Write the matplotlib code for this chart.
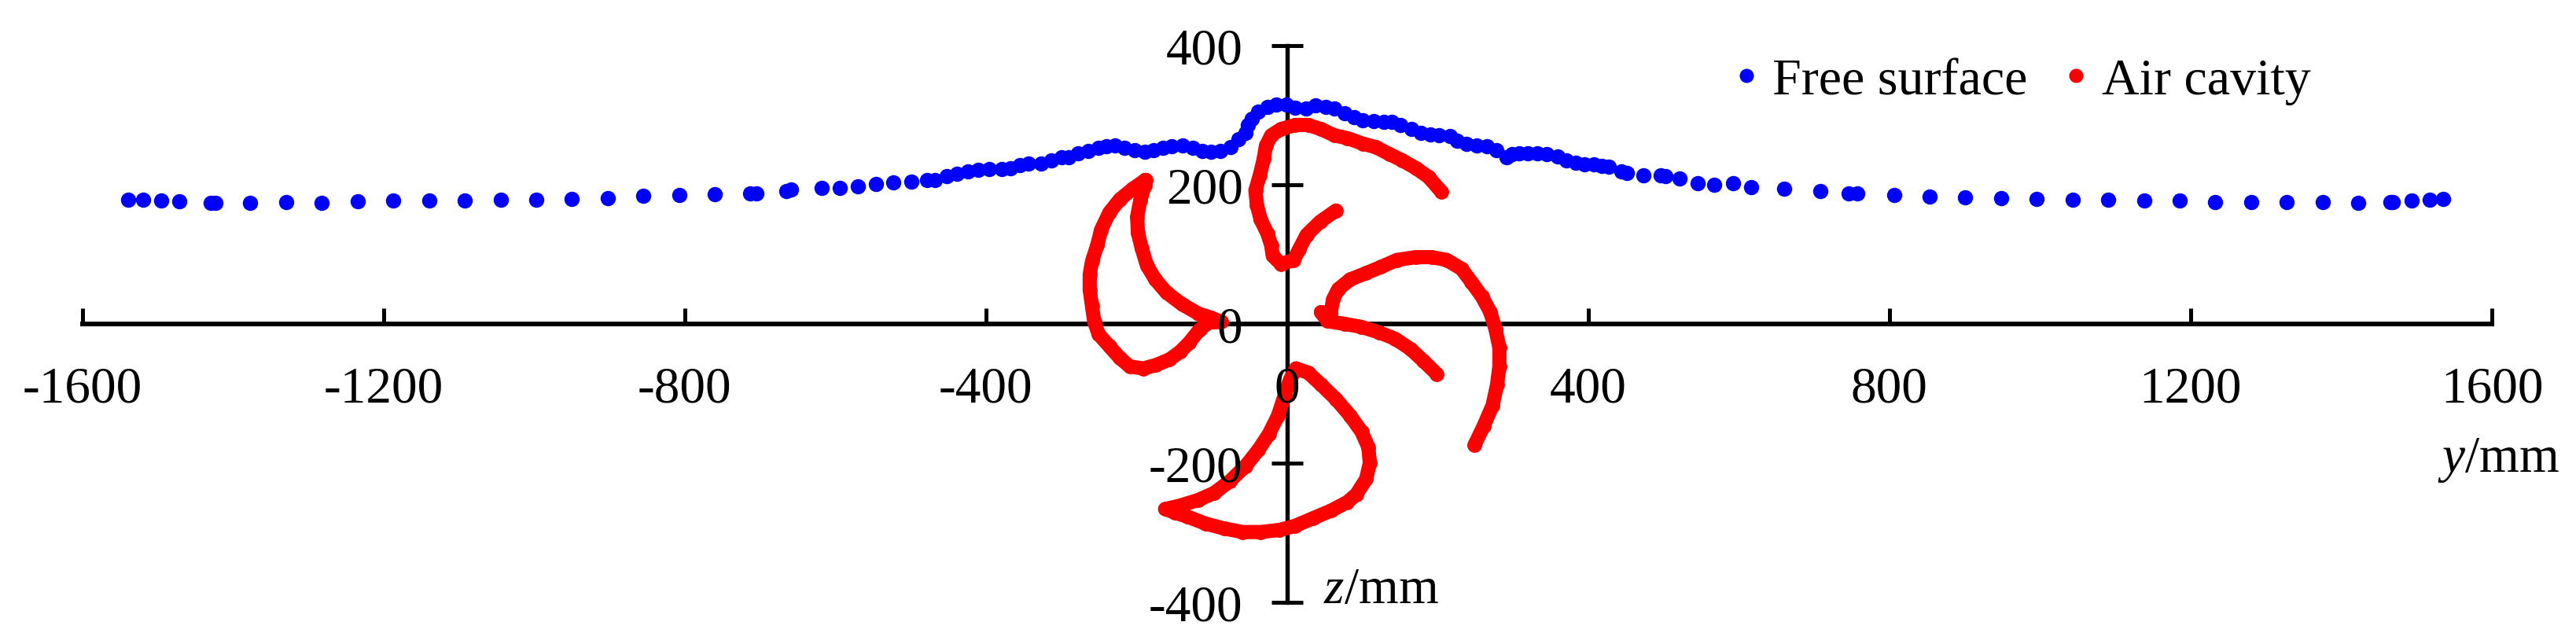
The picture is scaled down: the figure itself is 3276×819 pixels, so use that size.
import matplotlib
matplotlib.use('Agg')
import matplotlib.pyplot as plt
from matplotlib.lines import Line2D

plt.rcParams['font.family'] = ['Liberation Serif', 'DejaVu Sans']
plt.rcParams['mathtext.fontset'] = 'custom'
plt.rcParams['mathtext.it'] = 'Liberation Serif:italic'
plt.rcParams['mathtext.rm'] = 'Liberation Serif'

# free surface
surface_y = [-1539, -1519, -1495, -1471, -1429, -1423, -1377, -1329, -1282, -1234, -1187, -1139, -1092, -1044,
             -997, -950, -902, -855, -807, -760, -713, -705, -665, -659, -618, -594, -570, -546, -523, -499,
             -478, -468, -452, -438, -424, -410, -395, -379, -367, -355, -343, -327, -313, -299, -290, -278,
             -264, -250, -240, -228, -216, -202, -189, -177, -165, -153, -139, -125, -113, -101, -89, -75,
             -64, -55, -52, -47, -38, -26, -14, -1, 11, 25, 38, 51,
             63, 77, 89, 101, 115, 129, 139, 151, 165, 178, 190, 202, 216, 226, 238, 252, 266, 278, 292, 299,
             308, 320, 332, 345, 359, 371, 383, 395, 407, 418, 427, 444, 451, 473, 496, 503, 521, 545, 567, 592,
             616, 660, 708, 746, 757, 806, 853, 900, 948, 995, 1043, 1090, 1138, 1185, 1232, 1280, 1327, 1375,
             1422, 1465, 1468, 1493, 1518, 1535]
surface_z = [178, 179, 177, 176, 174, 174, 174, 175, 174, 176, 177, 177, 177, 179,
             179, 180, 181, 184, 185, 186, 188, 188, 191, 193, 195, 196, 198, 201, 203, 205,
             207, 207, 212, 216, 219, 221, 223, 223, 224, 228, 231, 231, 235, 239, 240, 245,
             249, 253, 255, 256, 253, 250, 248, 250, 253, 255, 256, 253, 249, 247, 249, 254,
             265, 275, 286, 295, 305, 312, 315, 315, 311, 310, 314, 312,
             310, 303, 297, 293, 292, 290, 290, 286, 280, 275, 272, 271, 270, 263, 259, 257, 255, 250, 239, 244,
             245, 245, 245, 244, 241, 235, 232, 229, 229, 227, 226, 219, 217, 214, 214, 212, 209, 202, 200, 202,
             197, 194, 191, 188, 188, 185, 183, 182, 181, 180, 179, 178, 177, 177, 175, 175, 175, 175,
             174, 175, 175, 177, 178, 180]

# air cavity, one outline per blade
blade1_y = [-188, -205, -222, -236, -247, -252, -259, -262, -262, -259, -256, -250, -236, -222, -209, -191, -174,
            -156, -142, -130, -116, -104, -87, -101, -118, -139, -160, -175, -186, -193, -198, -199, -195, -189, -188]
blade1_z = [207, 194, 179, 160, 135, 113, 90, 71, 49, 26, 3, -15, -32, -49, -61, -64, -59,
            -51, -40, -27, -8, 2, 3, 9, 15, 28, 45, 64, 84, 109, 131, 154, 177, 199, 207]
blade2_y = [205, 188, 171, 153, 136, 118, 101, 80, 63, 45, 28, 11, -8, -21, -28, -31, -36, -42, -40, -35, -26, -21,
            -19, -8, 9, 16, 26, 44, 65]
blade2_z = [190, 211, 224, 235, 244, 254, 259, 267, 271, 280, 286, 286, 280, 271, 256, 237, 214, 192, 171, 150, 130,
            113, 98, 86, 92, 107, 128, 147, 163]
blade3_y = [199, 181, 164, 143, 122, 98, 77, 54, 45, 58, 61, 68, 84, 105, 125, 146, 171, 192, 212, 232, 245, 259,
            270, 277, 282, 282, 279, 273, 261, 249]
blade3_z = [-72, -53, -36, -21, -12, -4, 0, 4, 17, 15, 35, 50, 64, 73, 82, 92, 96, 96, 92, 79, 60, 39,
            17, -8, -34, -61, -87, -117, -147, -174]
blade4_y = [12, 28, 45, 65, 84, 99, 108, 110, 105, 92, 80, 59, 35, 11, -10, -35, -59, -83, -108, -132, -149, -162,
            -142, -118, -97, -76, -55, -38, -24, -12, -3, 4, 12]
blade4_z = [-64, -70, -87, -108, -132, -155, -177, -200, -223, -245, -256, -268, -279, -290, -296, -299, -299, -294,
            -287, -277, -271, -266, -261, -253, -243, -226, -204, -181, -158, -132, -102, -80, -64]

x_ticks = [-1600, -1200, -800, -400, 0, 400, 800, 1200, 1600]
x_tick_labels = ['-1600', '-1200', '-800', '-400', '0', '400', '800', '1200', '1600']
y_ticks = [-400, -200, 0, 200, 400]
y_tick_labels = ['-400', '-200', '0', '200', '400']

W, H = 3276, 820
fig = plt.figure(figsize=(W / 100, H / 100), dpi=100)
# pixel box of the axes: x 104.5..3169, y 59..767
ax = fig.add_axes([104.5 / W, 1 - 767 / H, (3169 - 104.5) / W, (767 - 59) / H])
ax.set_xlim(-1600, 1600)
ax.set_ylim(-400, 400)
ax.patch.set_alpha(0)

for s in ['top', 'right']:
    ax.spines[s].set_visible(False)
ax.spines['left'].set_position(('data', 0))
ax.spines['bottom'].set_position(('data', 0))
ax.spines['left'].set_linewidth(3.9)
ax.spines['bottom'].set_linewidth(4.3)
ax.set_axisbelow(True)

ax.set_xticks(x_ticks)
ax.set_xticklabels(x_tick_labels)
ax.set_yticks(y_ticks)
ax.set_yticklabels(y_tick_labels)
ax.tick_params(axis='x', direction='in', length=14.5, width=3.6, labelsize=47, pad=38)
ax.tick_params(axis='y', direction='inout', length=29, width=3.6, labelsize=47, pad=26)

ax.plot(surface_y, surface_z, 'o', color='#0000ff', ms=14, mew=0, clip_on=False, zorder=3)
for by, bz in [(blade1_y, blade1_z), (blade2_y, blade2_z), (blade3_y, blade3_z), (blade4_y, blade4_z)]:
    ax.plot(by, bz, '-o', color='#ff0000', ms=13.5, mew=0, lw=13, solid_joinstyle='round',
            solid_capstyle='round', clip_on=False, zorder=3)

# the 0 labels sit on top of the red marks
for lab in ax.get_xticklabels() + ax.get_yticklabels():
    lab.set_zorder(5)
    lab.set_color('black')
ax.xaxis.set_zorder(4)
ax.yaxis.set_zorder(4)

ax.text(1528, -211, r'$\mathit{y}$/mm', fontsize=47, ha='left', va='baseline', clip_on=False)
ax.text(48.5, -400, r'$\mathit{z}$/mm', fontsize=47, ha='left', va='baseline', clip_on=False)

handles = [Line2D([], [], ls='', marker='o', color='#0000ff', ms=13, mew=0, label='Free surface'),
           Line2D([], [], ls='', marker='o', color='#ff0000', ms=13, mew=0, label='Air cavity')]
ax.legend(handles=handles, ncol=2, frameon=False, fontsize=47.5, loc='center left',
          bbox_to_anchor=(2205 / W, 1 - 104 / H), bbox_transform=fig.transFigure,
          handlelength=0.5, handletextpad=0.25, columnspacing=0.67, borderpad=0, borderaxespad=0)

fig.savefig('out.png', dpi=100)
